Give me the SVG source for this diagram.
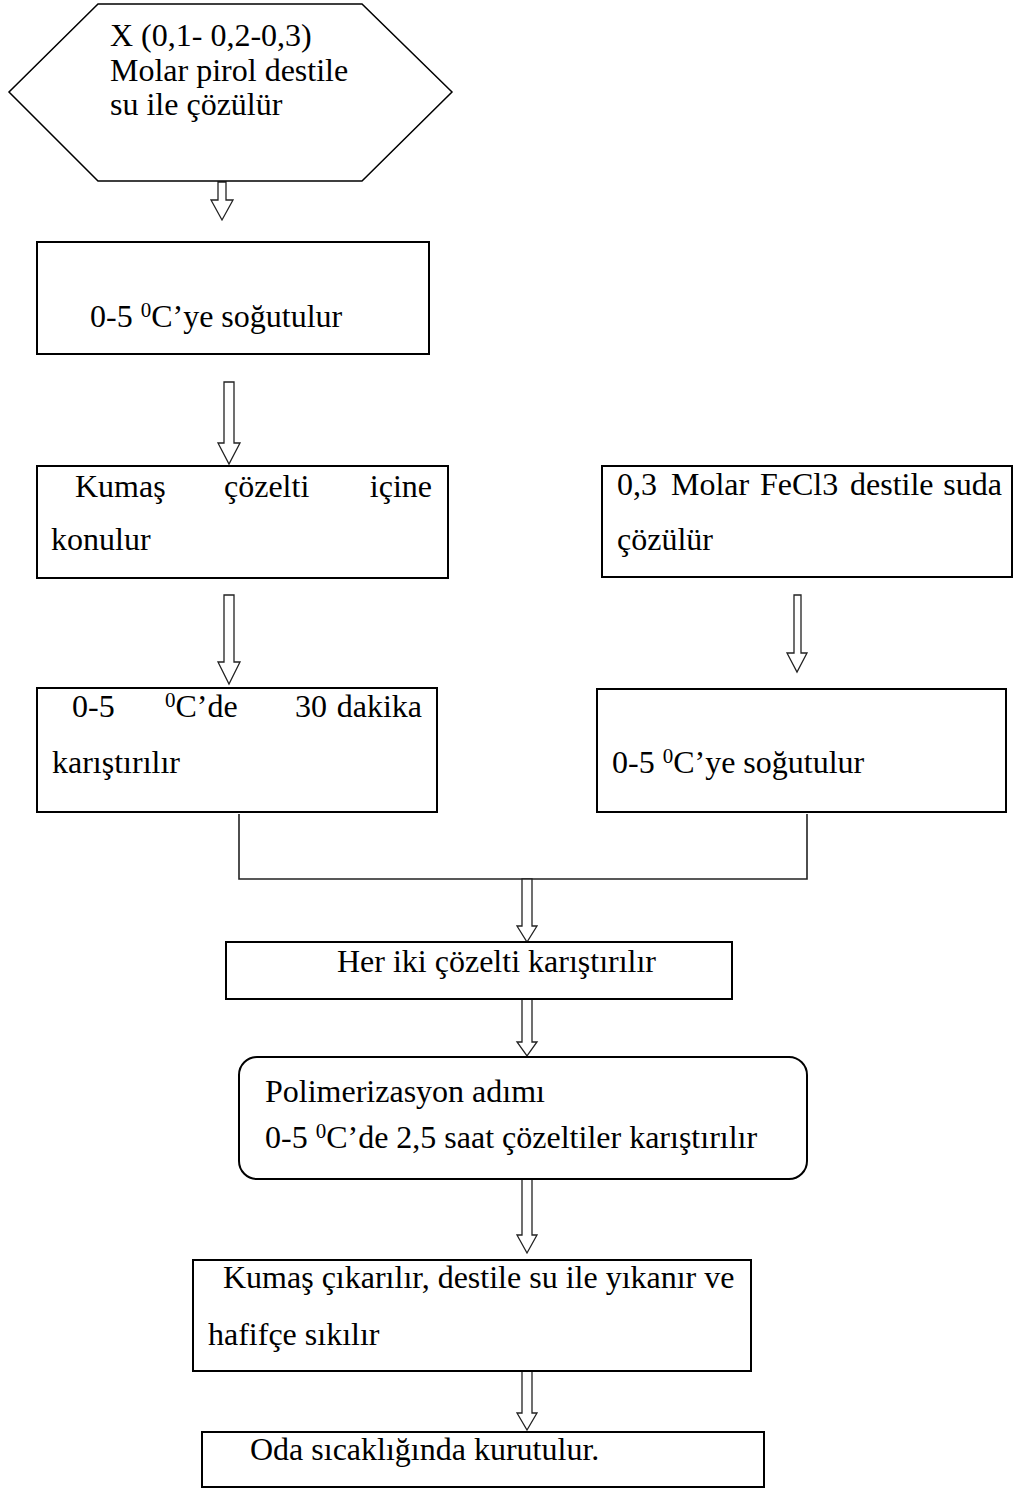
<svg xmlns="http://www.w3.org/2000/svg" width="1014" height="1488" viewBox="0 0 1014 1488">
<style>
.box{fill:#fff;stroke:#000;stroke-width:2}
.hex{fill:#fff;stroke:#000;stroke-width:1.5}
.t{font-family:"Liberation Serif","Times New Roman",serif;font-size:32px;fill:#000}
.sup{font-size:21px}
.arr{fill:#fff;stroke:#222;stroke-width:1.3;stroke-linejoin:miter}
.ln{fill:none;stroke:#222;stroke-width:1.6}
</style>
<rect width="1014" height="1488" fill="#fff"/>
<g id="connectors">
<path class="arr" d="M218,182 L226,182 L226,200 L233,200 L222,220 L211,200 L218,200 Z"/>
<path class="arr" d="M224,382 L234,382 L234,443 L240,443 L229,464 L218,443 L224,443 Z"/>
<path class="arr" d="M224,595 L234,595 L234,662 L240,662 L229,684 L218,662 L224,662 Z"/>
<path class="arr" d="M794,595 L801,595 L801,653 L807,653 L797,672 L787,653 L794,653 Z"/>
<path class="ln" d="M239,814 L239,879 L807,879 L807,814"/>
<path class="arr" d="M522,879 L532,879 L532,926 L537,926 L527,942 L517,926 L522,926 Z"/>
<path class="arr" d="M522,999 L532,999 L532,1042 L537,1042 L527,1056 L517,1042 L522,1042 Z"/>
<path class="arr" d="M522,1179 L532,1179 L532,1235 L537,1235 L527,1253 L517,1235 L522,1235 Z"/>
<path class="arr" d="M522,1366 L532,1366 L532,1413 L537,1413 L527,1430 L517,1413 L522,1413 Z"/>
</g>
<g id="n1">
<polygon class="hex" points="98,4 362,4 452,92 362,181 98,181 9,92"/>
<text class="t" x="110" y="46">X (0,1- 0,2-0,3)</text>
<text class="t" x="110" y="81">Molar pirol destile</text>
<text class="t" x="110" y="115">su ile çözülür</text>
</g>
<g id="n2">
<rect class="box" x="37" y="242" width="392" height="112"/>
<text class="t" x="90" y="327">0-5 <tspan class="sup" dy="-10">0</tspan><tspan dy="10">C’ye soğutulur</tspan></text>
</g>
<g id="n3">
<rect class="box" x="37" y="466" width="411" height="112"/>
<text class="t" x="75" y="497">Kumaş</text>
<text class="t" x="224" y="497">çözelti</text>
<text class="t" x="432" y="497" text-anchor="end">içine</text>
<text class="t" x="51" y="550">konulur</text>
</g>
<g id="n4">
<rect class="box" x="602" y="466" width="410" height="111"/>
<text class="t" x="617" y="495">0,3</text>
<text class="t" x="671" y="495">Molar</text>
<text class="t" x="760" y="495">FeCl3</text>
<text class="t" x="850" y="495">destile</text>
<text class="t" x="1002" y="495" text-anchor="end">suda</text>
<text class="t" x="617" y="550">çözülür</text>
</g>
<g id="n5">
<rect class="box" x="37" y="688" width="400" height="124"/>
<text class="t" x="72" y="717">0-5</text>
<text class="t" x="165" y="717"><tspan class="sup" dy="-10">0</tspan><tspan dy="10">C’de</tspan></text>
<text class="t" x="295" y="717">30</text>
<text class="t" x="422" y="717" text-anchor="end">dakika</text>
<text class="t" x="52" y="773">karıştırılır</text>
</g>
<g id="n6">
<rect class="box" x="597" y="689" width="409" height="123"/>
<text class="t" x="612" y="773">0-5 <tspan class="sup" dy="-10">0</tspan><tspan dy="10">C’ye soğutulur</tspan></text>
</g>
<g id="n7">
<rect class="box" x="226" y="942" width="506" height="57"/>
<text class="t" x="337" y="972">Her iki çözelti karıştırılır</text>
</g>
<g id="n8">
<rect class="box" x="239" y="1057" width="568" height="122" rx="18" ry="18"/>
<text class="t" x="265" y="1102">Polimerizasyon adımı</text>
<text class="t" x="265" y="1148">0-5 <tspan class="sup" dy="-10">0</tspan><tspan dy="10">C’de 2,5 saat çözeltiler karıştırılır</tspan></text>
</g>
<g id="n9">
<rect class="box" x="193" y="1260" width="558" height="111"/>
<text class="t" x="223" y="1288">Kumaş çıkarılır, destile su ile yıkanır ve</text>
<text class="t" x="208" y="1345">hafifçe sıkılır</text>
</g>
<g id="n10">
<rect class="box" x="202" y="1432" width="562" height="55"/>
<text class="t" x="250" y="1460">Oda sıcaklığında kurutulur.</text>
</g>
</svg>
